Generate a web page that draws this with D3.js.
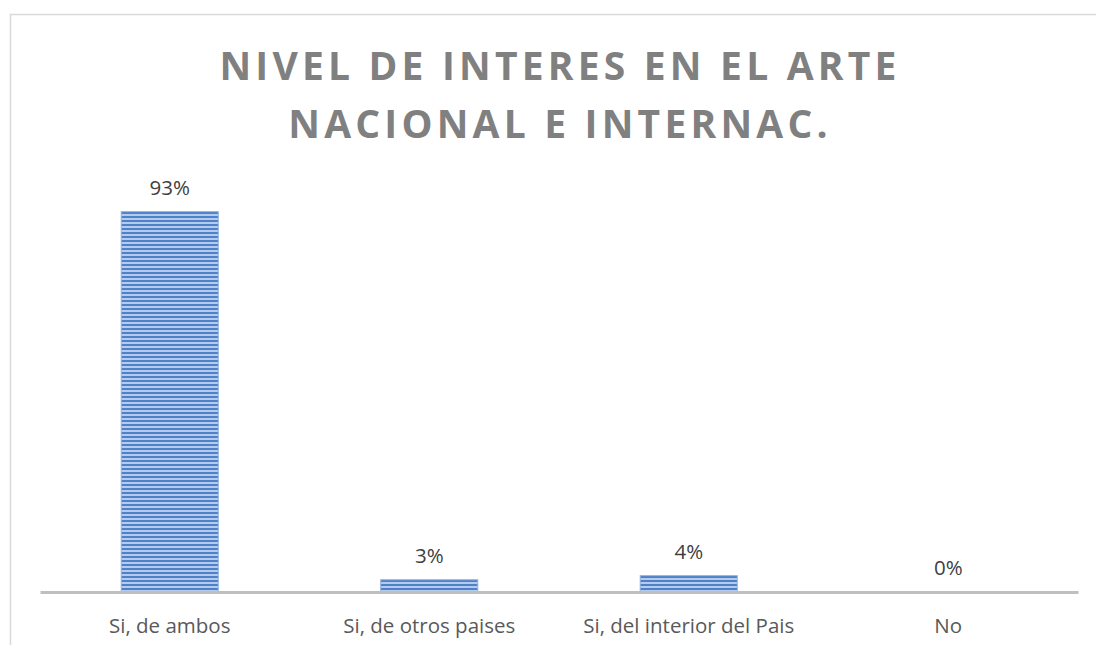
<!DOCTYPE html>
<html>
<head>
<meta charset="utf-8">
<script src="https://cdn.jsdelivr.net/npm/d3@7"></script>
<style>
  body { margin: 0; background: #ffffff; }
  svg { display: block; }
</style>
</head>
<body>
<script>
// Données du graphique
const categories = ['Si, de ambos', 'Si, de otros paises', 'Si, del interior del Pais', 'No'];
const values = [93, 3, 4, 0];
const valueLabels = ['93%', '3%', '4%', '0%'];
const titleLines = ['NIVEL DE INTERES EN EL ARTE', 'NACIONAL E INTERNAC.'];

const width = 1096, height = 645;
const svg = d3.select('body').append('svg').attr('width', width).attr('height', height);

// Cadre du graphique (bords haut et gauche visibles)
svg.append('rect')
    .attr('x', 10.5).attr('y', 14.5)
    .attr('width', 1200).attr('height', 700)
    .attr('fill', 'white')
    .attr('stroke', '#d9d9d9')
    .attr('stroke-width', 1.5);

// Motif rayé des barres
const defs = svg.append('defs');
const pat = defs.append('pattern')
    .attr('id', 'stripes')
    .attr('patternUnits', 'userSpaceOnUse')
    .attr('width', 8).attr('height', 4);
pat.append('rect').attr('width', 8).attr('height', 4).attr('fill', '#b3cbec');
pat.append('rect').attr('y', 0).attr('width', 8).attr('height', 2).attr('fill', '#4f80c8');

// Echelles
const x = d3.scaleBand()
    .domain(categories)
    .range([40, 1078])
    .paddingInner(0.626)
    .paddingOuter(0.313);

const y = d3.scaleLinear()
    .domain([0, 100])
    .range([592, 183]);

// Titre
const title = svg.append('g')
    .attr('fill', '#808080')
    .attr('font-family', '"Open Sans", sans-serif')
    .attr('font-weight', 'bold')
    .attr('font-size', 39)
    .attr('text-anchor', 'middle');

title.selectAll('text')
    .data(titleLines)
    .join('text')
    .attr('x', 560)
    .attr('y', (d, i) => 80 + i * 58)
    .attr('letter-spacing', 4.2)
    .text(d => d);

// Barres
svg.append('g')
    .selectAll('rect')
    .data(values)
    .join('rect')
    .attr('x', (d, i) => x(categories[i]))
    .attr('y', d => y(d))
    .attr('width', x.bandwidth())
    .attr('height', d => y(0) - y(d))
    .attr('fill', 'url(#stripes)')
    .attr('stroke', '#8fb0e0')
    .attr('stroke-width', d => d > 0 ? 1 : 0);

// Axe horizontal
const xAxis = svg.append('g')
    .attr('transform', `translate(0,${y(0)})`)
    .call(d3.axisBottom(x).tickSize(0).tickPadding(26));
xAxis.select('.domain')
    .attr('stroke', '#bfbfbf')
    .attr('stroke-width', 3);
xAxis.selectAll('text')
    .attr('fill', '#595959')
    .attr('font-family', '"Open Sans", sans-serif')
    .attr('font-size', 20.5);

// Etiquettes de valeurs
svg.append('g')
    .selectAll('text')
    .data(values)
    .join('text')
    .attr('x', (d, i) => x(categories[i]) + x.bandwidth() / 2)
    .attr('y', d => y(d) - 17)
    .attr('text-anchor', 'middle')
    .attr('fill', '#404040')
    .attr('font-family', '"Open Sans", sans-serif')
    .attr('font-size', 20.5)
    .text((d, i) => valueLabels[i]);
</script>
</body>
</html>
